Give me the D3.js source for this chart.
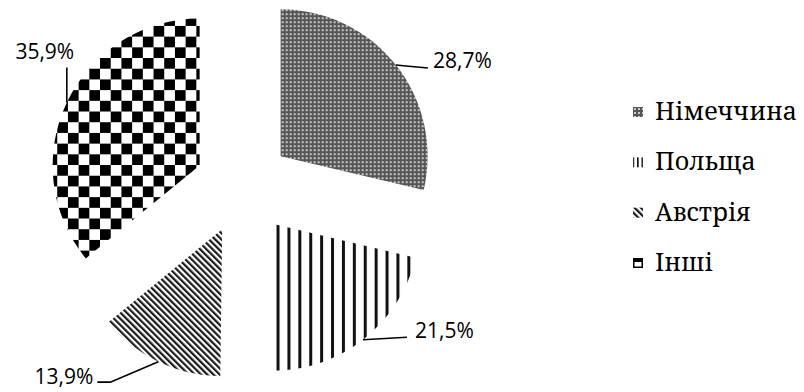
<!DOCTYPE html>
<html>
<head>
<meta charset="utf-8">
<script src="https://cdn.jsdelivr.net/npm/d3@7"></script>
<style>
html,body{margin:0;padding:0;background:#fff;}
svg{display:block;}
.leg{font-family:"Noto Serif","DejaVu Serif",serif;}
.lbl{font-family:"Open Sans","DejaVu Sans",sans-serif;}
</style>
</head>
<body>
<svg id="chart" width="804" height="392"></svg>
<script>
const categories = ["Німеччина", "Польща", "Австрія", "Інші"];
const values = [28.7, 21.5, 13.9, 35.9];
const valueLabels = ["28,7%", "21,5%", "13,9%", "35,9%"];
const patternIds = ["pGer", "pPol", "pAus", "pOth"];

const W = 804, H = 392;
const svg = d3.select("#chart");
const defs = svg.append("defs");

// patterns
const pGer = defs.append("pattern").attr("id", "pGer").attr("patternUnits", "userSpaceOnUse")
  .attr("width", 4).attr("height", 4);
pGer.append("rect").attr("width", 4).attr("height", 4).attr("fill", "#555");
pGer.append("rect").attr("x", 1).attr("y", 1).attr("width", 2).attr("height", 2).attr("fill", "#c8c8c8");

const pPol = defs.append("pattern").attr("id", "pPol").attr("patternUnits", "userSpaceOnUse")
  .attr("width", 10.9).attr("height", 10).attr("x", 276.5);
pPol.append("rect").attr("width", 10.9).attr("height", 10).attr("fill", "#fff");
pPol.append("rect").attr("width", 3).attr("height", 10).attr("fill", "#111");

const pPolLeg = defs.append("pattern").attr("id", "pPolLeg").attr("patternUnits", "userSpaceOnUse")
  .attr("width", 4.5).attr("height", 10).attr("x", 634);
pPolLeg.append("rect").attr("width", 4.5).attr("height", 10).attr("fill", "#fff");
pPolLeg.append("rect").attr("width", 1.6).attr("height", 10).attr("fill", "#111");

const pAus = defs.append("pattern").attr("id", "pAus").attr("patternUnits", "userSpaceOnUse")
  .attr("width", 4.4).attr("height", 10).attr("patternTransform", "rotate(-45)");
pAus.append("rect").attr("width", 4.4).attr("height", 10).attr("fill", "#fff");
pAus.append("rect").attr("width", 2.2).attr("height", 10).attr("fill", "#1a1a1a");

const cs = 10.7;
const pOth = defs.append("pattern").attr("id", "pOth").attr("patternUnits", "userSpaceOnUse")
  .attr("width", cs * 2).attr("height", cs * 2).attr("x", 200 - cs * 2).attr("y", 21);
pOth.append("rect").attr("width", cs * 2).attr("height", cs * 2).attr("fill", "#fff");
pOth.append("rect").attr("width", cs).attr("height", cs).attr("fill", "#000");
pOth.append("rect").attr("x", cs).attr("y", cs).attr("width", cs).attr("height", cs).attr("fill", "#000");

// pie geometry
const cx = 243, cy = 186, R = 147, explode = 48;
const pie = d3.pie().sort(null).value(d => d).startAngle(0).endAngle(2 * Math.PI);
const arcs = pie(values);
const arc = d3.arc().innerRadius(0).outerRadius(R);
const dir = a => [Math.sin(a), -Math.cos(a)];

const g = svg.append("g");
arcs.forEach((a, i) => {
  const mid = (a.startAngle + a.endAngle) / 2;
  const [dx, dy] = dir(mid);
  const ox = cx + dx * explode, oy = cy + dy * explode;
  g.append("path")
    .attr("d", arc(a))
    .attr("transform", `translate(${ox},${oy})`)
    .attr("fill", `url(#${patternIds[i]})`);
  a.ox = ox; a.oy = oy; a.mid = mid;
});

// data labels with leader lines (offsets relative to the slice's arc midpoint)
const leaderLayouts = [
  {elbow: [[10, 1], [32, 3]], text: [37, 3], anchor: "start"},
  {elbow: [[44, -2.5]], text: [52, -1.5], anchor: "start"},
  {elbow: [[-48, 20.5], [-61, 20.5]], text: [-65, 22], anchor: "end"},
  {elbow: [[0, -35]], text: [-22, -43], anchor: "middle"}
];
arcs.forEach((a, i) => {
  const [dx, dy] = dir(a.mid);
  const px = a.ox + dx * R, py = a.oy + dy * R;
  const L = leaderLayouts[i];
  const pts = [[px, py]].concat(L.elbow.map(e => [px + e[0], py + e[1]]));
  svg.append("path")
    .attr("d", d3.line()(pts))
    .attr("fill", "none").attr("stroke", "#000").attr("stroke-width", 1.6);
  svg.append("text")
    .attr("class", "lbl")
    .attr("x", px + L.text[0]).attr("y", py + L.text[1])
    .attr("text-anchor", L.anchor)
    .attr("font-size", 21)
    .attr("fill", "#000")
    .text(valueLabels[i]);
});

// legend
const legend = svg.append("g").attr("transform", "translate(633,0)");
const legY = d3.scalePoint().domain(categories).range([120, 271]);
categories.forEach((c, i) => {
  const y = legY(c);
  const sw = legend.append("g").attr("transform", `translate(0,${y - 13})`);
  if (i === 3) {
    sw.append("rect").attr("x", 0.75).attr("y", 0.75).attr("width", 8.5).attr("height", 8.5)
      .attr("fill", "#fff").attr("stroke", "#000").attr("stroke-width", 1.5);
    sw.append("rect").attr("x", 0).attr("y", 0).attr("width", 10).attr("height", 4).attr("fill", "#000");
  } else {
    sw.append("rect").attr("width", 10).attr("height", 10)
      .attr("fill", i === 1 ? "url(#pPolLeg)" : `url(#${patternIds[i]})`);
  }
  legend.append("text")
    .attr("class", "leg")
    .attr("x", 22).attr("y", y)
    .attr("font-size", 25).attr("fill", "#000")
    .text(c);
});
</script>
</body>
</html>
